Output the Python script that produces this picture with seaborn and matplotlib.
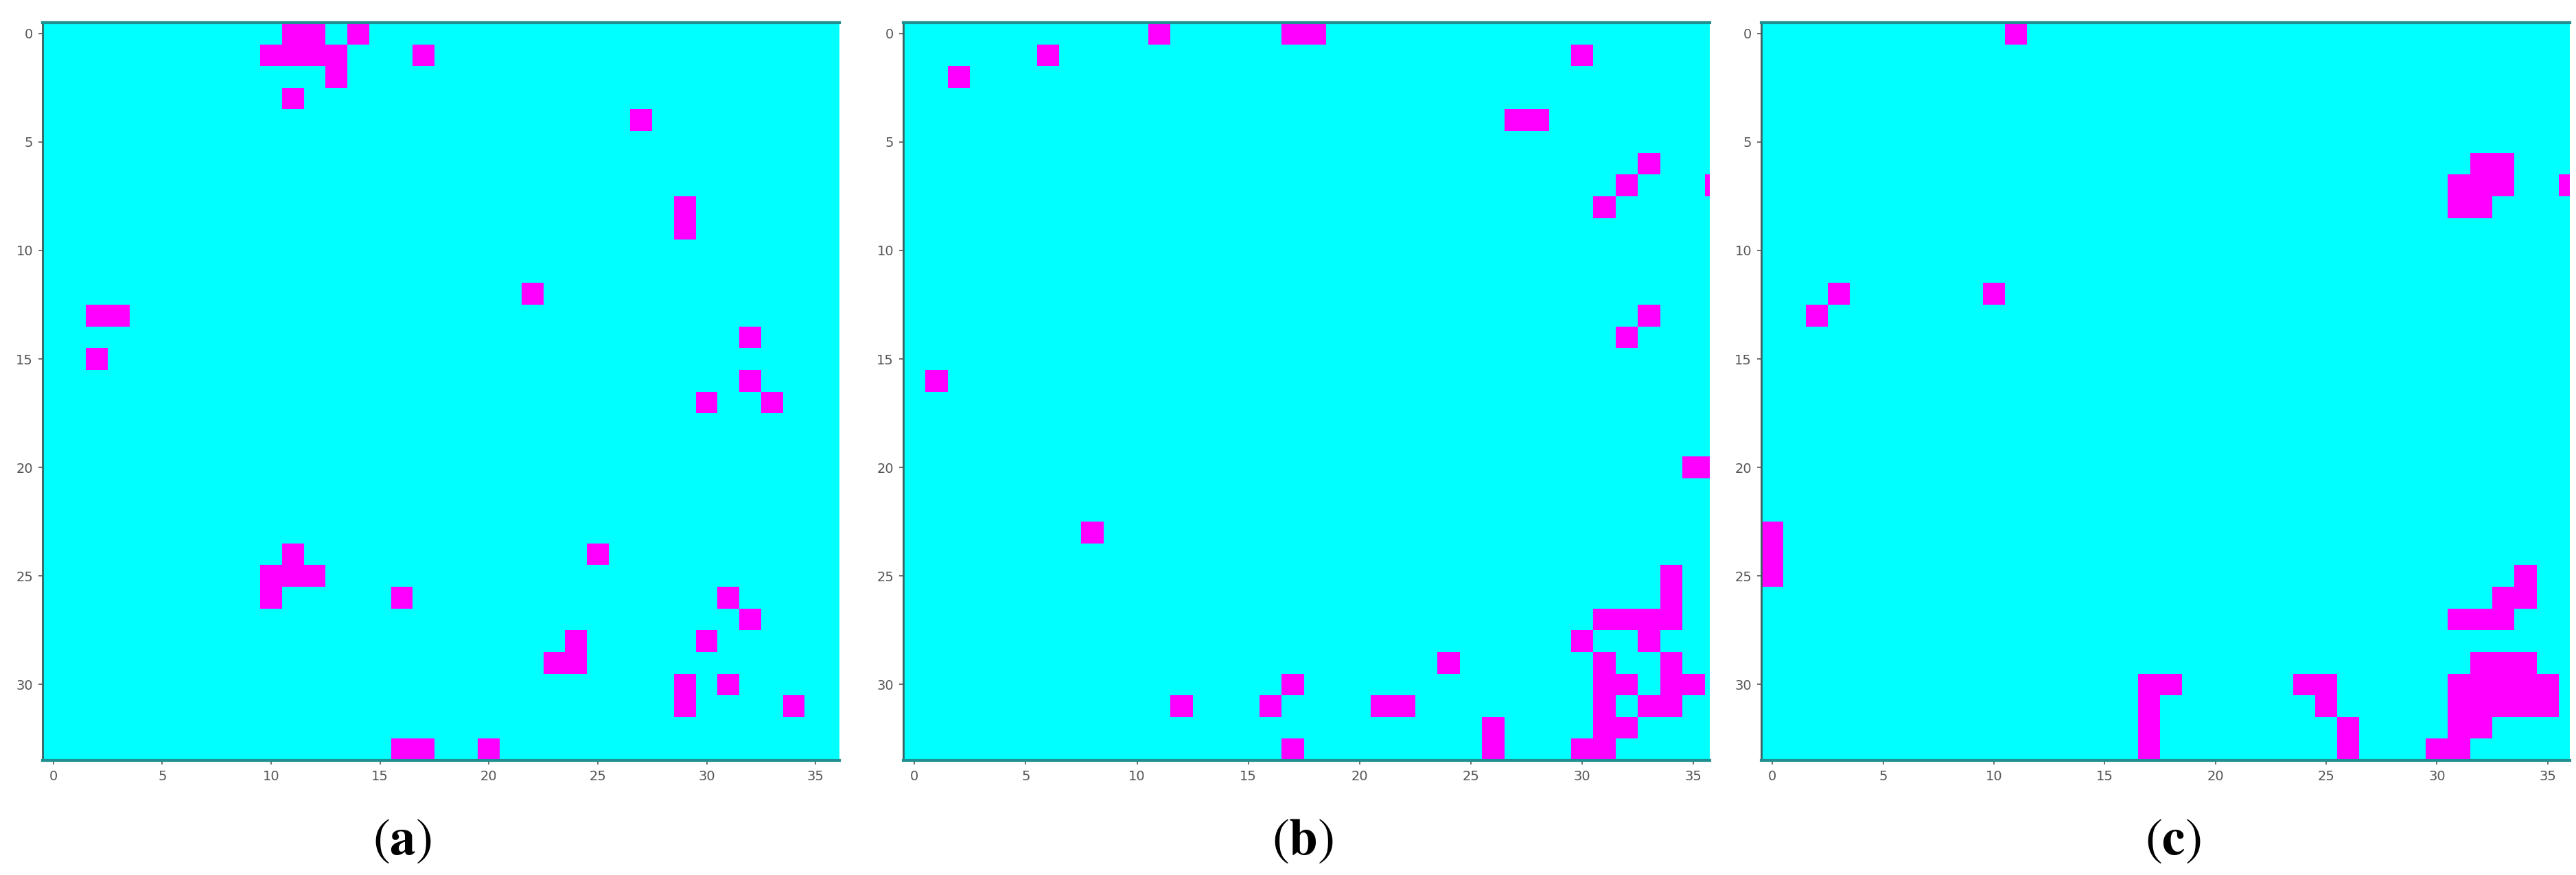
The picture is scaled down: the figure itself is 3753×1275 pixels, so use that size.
import numpy as np
import matplotlib
matplotlib.use('Agg')
import matplotlib.pyplot as plt
import seaborn as sns
from matplotlib.colors import ListedColormap

# grid size and tick labels (imshow style, cell centres)
n_rows, n_cols = 34, 37
x_ticks = list(range(0, 36, 5))
y_ticks = list(range(0, 31, 5))
captions = ['a', 'b', 'c']

# magenta cells as (row, col) for each panel
cells_a = [(0, 11), (0, 12), (0, 14), (1, 10), (1, 11), (1, 12), (1, 13), (1, 17),
           (2, 13), (3, 11), (4, 27), (8, 29), (9, 29), (12, 22), (13, 2), (13, 3),
           (14, 32), (15, 2), (16, 32), (17, 30), (17, 33), (24, 11), (24, 25),
           (25, 10), (25, 11), (25, 12), (26, 10), (26, 16), (26, 31), (27, 32),
           (28, 24), (28, 30), (29, 23), (29, 24), (30, 29), (30, 31), (31, 29),
           (31, 34), (33, 16), (33, 17), (33, 20)]

cells_b = [(0, 11), (0, 17), (0, 18), (1, 6), (1, 30), (2, 2), (4, 27), (4, 28),
           (6, 33), (7, 32), (7, 36), (8, 31), (13, 33), (14, 32), (16, 1),
           (20, 35), (20, 36), (23, 8), (25, 34), (26, 34), (27, 31), (27, 32),
           (27, 33), (27, 34), (28, 30), (28, 33), (29, 24), (29, 31), (29, 34),
           (30, 17), (30, 31), (30, 32), (30, 34), (30, 35), (31, 12), (31, 16),
           (31, 21), (31, 22), (31, 31), (31, 33), (31, 34), (32, 26), (32, 31),
           (32, 32), (33, 17), (33, 26), (33, 30), (33, 31)]

cells_c = [(0, 11), (6, 32), (6, 33), (7, 31), (7, 32), (7, 33), (7, 36), (8, 31),
           (8, 32), (12, 3), (12, 10), (13, 2), (23, 0), (24, 0), (25, 0), (25, 34),
           (26, 33), (26, 34), (27, 31), (27, 32), (27, 33), (29, 32), (29, 33),
           (29, 34), (30, 17), (30, 18), (30, 24), (30, 25), (30, 31), (30, 32),
           (30, 33), (30, 34), (30, 35), (31, 17), (31, 25), (31, 31), (31, 32),
           (31, 33), (31, 34), (31, 35), (32, 17), (32, 26), (32, 31), (32, 32),
           (33, 17), (33, 26), (33, 30), (33, 31)]

panels = [cells_a, cells_b, cells_c]


def make_grid(cells):
    g = np.zeros((n_rows, n_cols))
    for r, c in cells:
        g[r, c] = 1
    return g


plt.rcParams['mathtext.fontset'] = 'stix'

W, H = 3753, 1275
fig = plt.figure(figsize=(W / 100, H / 100), dpi=100)

# panel placement in pixels (screenshots are cropped on the right)
lefts = [62, 1316, 2566]
rights = [1223, 2491, 3744]
x_end = [36.6, 36.23, 36.5]
top, bottom = 33, 1108
cap_x = [586, 1898, 3166]

cmap = ListedColormap(['#00ffff', '#ff00ff'])

for i, cells in enumerate(panels):
    ax = fig.add_axes([lefts[i] / W, 1 - bottom / H,
                       (rights[i] - lefts[i]) / W, (bottom - top) / H])
    sns.heatmap(make_grid(cells), ax=ax, cmap=cmap, vmin=0, vmax=1, cbar=False,
                xticklabels=False, yticklabels=False)
    ax.set_xticks([t + 0.5 for t in x_ticks])
    ax.set_xticklabels(x_ticks)
    ax.set_yticks([t + 0.5 for t in y_ticks])
    ax.set_yticklabels(y_ticks, rotation=0)
    ax.set_xlim(0, x_end[i])
    ax.set_ylim(n_rows, 0)
    ax.tick_params(labelsize=14, colors='#555555', length=4, width=1.2, pad=6)

    for side in ['top', 'bottom']:
        ax.spines[side].set_visible(True)
        ax.spines[side].set_color('#1f8f8f')
        ax.spines[side].set_linewidth(3)
    ax.spines['left'].set_visible(True)
    ax.spines['left'].set_color('#3a6060')
    ax.spines['left'].set_linewidth(2)
    ax.spines['right'].set_visible(False)

    fig.text(cap_x[i] / W, 1 - 1224 / H, r'$(\mathbf{' + captions[i] + '})$',
             fontsize=54, ha='center', va='center', color='black')

fig.savefig('out.png', dpi=100, facecolor='white')
